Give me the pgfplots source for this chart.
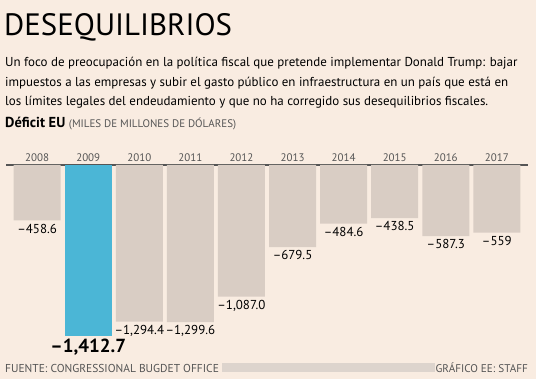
\documentclass[border=0pt]{standalone}
\usepackage{pgfplots}
\pgfplotsset{compat=1.18}
\usepackage{fontspec}
\setmainfont{PT Sans}
\definecolor{bg}{RGB}{249,236,225}
\definecolor{barg}{RGB}{217,205,196}
\definecolor{barb}{RGB}{75,182,214}
\definecolor{txtg}{RGB}{85,85,85}
\definecolor{band}{RGB}{221,212,205}
\begin{document}
\begin{tikzpicture}
\fill[bg] (0,0) rectangle (536bp,379bp);
\node[anchor=base west, inner sep=0, font=\fontsize{31}{31}\selectfont] at (4bp,343bp) {DESEQUILIBRIOS};
\begin{scope}[every node/.style={anchor=base west, inner sep=0, font=\fontsize{13}{13}\selectfont}]
\node at (5bp,312bp) {Un foco de preocupación en la política fiscal que pretende implementar Donald Trump: bajar};
\node at (5bp,292.5bp) {impuestos a las empresas y subir el gasto público en infraestructura en un país que está en};
\node at (5bp,273.5bp) {los límites legales del endeudamiento y que no ha corregido sus desequilibrios fiscales.};
\end{scope}
\node[anchor=base west, inner sep=0] at (5bp,251.5bp) {\fontsize{14.5}{14.5}\selectfont\bfseries Déficit EU \fontsize{11}{11}\selectfont\mdseries\color{txtg}(MILES DE MILLONES DE DÓLARES)};
\fill[band] (222bp,7bp) rectangle (435bp,16bp);
\node[anchor=base west, inner sep=0, font=\fontsize{11.5}{11.5}\selectfont, text=txtg] at (5bp,7bp) {FUENTE: CONGRESSIONAL BUGDET OFFICE};
\node[anchor=base east, inner sep=0, font=\fontsize{11.2}{11.2}\selectfont, text=txtg] at (528bp,7bp) {GRÁFICO EE: STAFF};
\begin{axis}[
  at={(6bp,214bp)}, anchor=north west,
  scale only axis, width=522bp, height=181.5bp,
  xmin=-0.61, xmax=9.61, ymin=-1500, ymax=0,
  axis x line=top, axis y line=none,
  x axis line style={-, draw=txtg, line width=1.2bp},
  xtick={0,...,9},
  xticklabels={2008,2009,2010,2011,2012,2013,2014,2015,2016,2017},
  xticklabel style={font=\fontsize{11}{11}\selectfont, text=txtg},
  major tick length=0pt, ytick=\empty,
  clip=false,
]
\addplot[ybar, bar width=47bp, bar shift=0pt, fill=barg, draw=none,
  nodes near coords, point meta=explicit symbolic,
  every node near coord/.append style={anchor=north, font=\fontsize{13}{13}\selectfont, text=black}]
  table[meta=label] {
x y label
0 -458.6 –458.6
2 -1294.4 –1,294.4
3 -1299.6 –1,299.6
4 -1087.0 –1,087.0
5 -679.5 –679.5
6 -484.6 –484.6
7 -438.5 –438.5
8 -587.3 –587.3
9 -559 –559
};
\addplot[ybar, bar width=47bp, bar shift=0pt, fill=barb, draw=none,
  nodes near coords, point meta=explicit symbolic,
  every node near coord/.append style={anchor=north, font=\fontsize{19}{19}\selectfont\bfseries, text=black}]
  table[meta=label] {
x y label
1 -1412.7 –1,412.7
};
\end{axis}
\end{tikzpicture}
\end{document}
